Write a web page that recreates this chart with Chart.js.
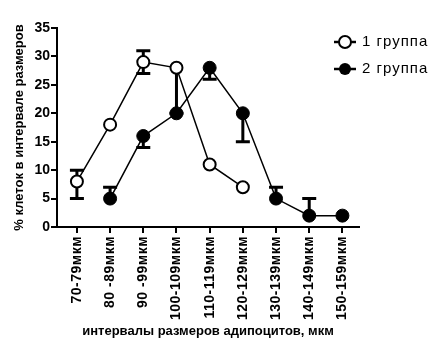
<!DOCTYPE html>
<html>
<head>
<meta charset="utf-8">
<script src="https://cdn.jsdelivr.net/npm/chart.js@4"></script>
<style>
  body { margin: 0; background: #fff; }
  #wrap { width: 446px; height: 351px; }
</style>
</head>
<body>
<div id="wrap"><canvas id="chart"></canvas></div>
<script>
const categories = ["70-79мкм", "80 -89мкм", "90 -99мкм", "100-109мкм", "110-119мкм",
  "120-129мкм", "130-139мкм", "140-149мкм", "150-159мкм"]
const yTicks = [0, 5, 10, 15, 20, 25, 30, 35]

// 1 группа (open circles)
const group1 = [8, 18, 29, 28, 11, 7, null, null, null]
const group1Low = [5, null, 27, 20, null, null, null, null, null]
const group1High = [10, null, 31, null, null, null, null, null, null]

// 2 группа (filled circles)
const group2 = [null, 5, 16, 20, 28, 20, 5, 2, 2]
const group2Low = [null, null, 14, null, 26, 15, null, null, null]
const group2High = [null, 7, null, null, null, null, 7, 5, null]

const legendLabels = ["1 группа", "2 группа"]

const FONT = "Arial, 'Liberation Sans', sans-serif"

function toPoints(arr) {
  return arr.map((v, i) => ({ x: i, y: v })).filter(p => p.y !== null)
}

const errorBars = {
  id: "errorBars",
  beforeDatasetsDraw(chart) {
    const { ctx, scales: { x, y } } = chart
    const sets = [[group1Low, group1High], [group2Low, group2High]]
    const series = [group1, group2]
    ctx.save()
    ctx.strokeStyle = "#000"
    ctx.lineWidth = 3
    sets.forEach(([lo, hi], s) => {
      series[s].forEach((v, i) => {
        if (v === null) return
        const px = x.getPixelForValue(i)
        const py = y.getPixelForValue(v)
        ;[lo[i], hi[i]].forEach(e => {
          if (e === null) return
          const ey = y.getPixelForValue(e)
          ctx.beginPath()
          ctx.moveTo(px, py)
          ctx.lineTo(px, ey)
          ctx.moveTo(px - 7, ey)
          ctx.lineTo(px + 7, ey)
          ctx.stroke()
        })
      })
    })
    ctx.restore()
  }
}

// slightly spaced lettering on the category labels, like the original export
const spacedLabels = {
  id: "spacedLabels",
  afterLayout(chart) {
    const sc = chart.scales.x
    if (sc._spaced) return
    const orig = sc.drawLabels.bind(sc)
    sc.drawLabels = (area) => {
      chart.ctx.save()
      chart.ctx.letterSpacing = "0.5px"
      orig(area)
      chart.ctx.restore()
    }
    sc._spaced = true
  }
}

const sideLegend = {
  id: "sideLegend",
  afterDraw(chart) {
    const { ctx, chartArea } = chart
    const cx = chartArea.right - 14
    ctx.save()
    legendLabels.forEach((txt, i) => {
      const cy = 42 + i * 27
      ctx.strokeStyle = "#000"
      ctx.lineWidth = 2.5
      ctx.beginPath()
      ctx.moveTo(cx - 11, cy)
      ctx.lineTo(cx + 11, cy)
      ctx.stroke()
      ctx.lineWidth = 2
      ctx.beginPath()
      ctx.arc(cx, cy, 6, 0, Math.PI * 2)
      if (i === 0) {
        ctx.fillStyle = "#fff"
        ctx.fill()
        ctx.stroke()
      } else {
        ctx.fillStyle = "#000"
        ctx.fill()
      }
      ctx.fillStyle = "#000"
      ctx.font = "15px " + FONT
      ctx.letterSpacing = "1px"
      ctx.textBaseline = "middle"
      ctx.textAlign = "left"
      ctx.fillText(txt, cx + 17, cy)
    })
    ctx.restore()
  }
}

new Chart("chart", {
  type: "line",
  data: {
    datasets: [
      {
        label: legendLabels[0],
        data: toPoints(group1),
        borderColor: "#000",
        borderWidth: 1.5,
        pointRadius: 6,
        pointBorderWidth: 2,
        pointBorderColor: "#000",
        pointBackgroundColor: "#fff",
        tension: 0,
      },
      {
        label: legendLabels[1],
        data: toPoints(group2),
        borderColor: "#000",
        borderWidth: 1.5,
        pointRadius: 6.5,
        pointBorderWidth: 1,
        pointBorderColor: "#000",
        pointBackgroundColor: "#000",
        tension: 0,
      }
    ]
  },
  options: {
    responsive: true,
    maintainAspectRatio: false,
    animation: false,
    layout: { padding: { left: 0, top: 28, right: 87, bottom: 0 } },
    plugins: {
      legend: { display: false },
      tooltip: { enabled: false }
    },
    scales: {
      x: {
        type: "linear",
        min: -0.6,
        max: 8.5,
        afterBuildTicks: (scale) => {
          scale.ticks = categories.map((c, i) => ({ value: i }))
        },
        afterFit: (scale) => { scale.height = 124 },
        grid: { drawOnChartArea: false, drawTicks: true, tickLength: 6, color: "#000", lineWidth: 2 },
        border: { color: "#000", width: 2 },
        ticks: {
          autoSkip: false,
          minRotation: 90,
          maxRotation: 90,
          padding: 3,
          color: "#000",
          font: { family: FONT, size: 14, weight: "bold" },
          callback: (v) => categories[v]
        },
        title: {
          display: true,
          text: "интервалы размеров адипоцитов, мкм",
          color: "#000",
          font: { family: FONT, size: 13, weight: "bold" },
          padding: { top: 0, bottom: 12 }
        }
      },
      y: {
        min: 0,
        max: 35,
        afterBuildTicks: (scale) => {
          scale.ticks = yTicks.map(v => ({ value: v }))
        },
        afterFit: (scale) => { scale.width = 57 },
        grid: { drawOnChartArea: false, drawTicks: true, tickLength: 6, color: "#000", lineWidth: 2 },
        border: { color: "#000", width: 2 },
        ticks: {
          padding: 1,
          color: "#000",
          font: { family: FONT, size: 14, weight: "bold" }
        },
        title: {
          display: true,
          text: "% клеток в интервале размеров",
          color: "#000",
          font: { family: FONT, size: 13, weight: "bold" },
          padding: { top: 12, bottom: 0 }
        }
      }
    }
  },
  plugins: [errorBars, spacedLabels, sideLegend]
})
</script>
</body>
</html>
